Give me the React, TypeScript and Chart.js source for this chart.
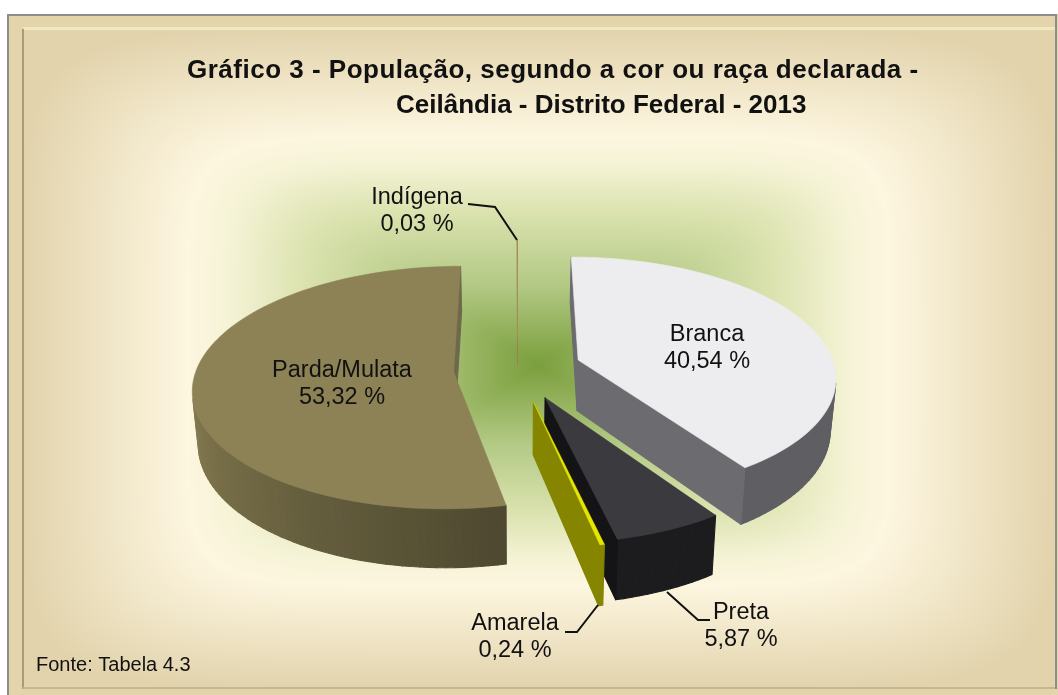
import React, { useEffect, useRef } from "react";
import { Chart, registerables } from "chart.js";

Chart.register(...registerables);

// ---- data ----
const categories = ["Branca", "Preta", "Amarela", "Parda/Mulata", "Indígena"];
const shares = [40.54, 5.87, 0.24, 53.32, 0.03];
const shareLabels = ["40,54 %", "5,87 %", "0,24 %", "53,32 %", "0,03 %"];
const titleLines = [
  "Gráfico 3 - População, segundo a cor ou raça declarada -",
  "Ceilândia - Distrito Federal - 2013",
];
const sourceNote = "Fonte: Tabela 4.3";

// ---- styling ----
const explode = [64, 67, 71, 64, 68];
const topColors = ["#ededef", "#3b3b3f", "#e6e600", "#8d8255", "#a88c5c"];
const wallDark = ["#5f5f63", "#1c1c1e", "#858500", "#4e4930", "#98805a"];
const wallLight = ["#5f5f63", "#1c1c1e", "#858500", "#857b50", "#98805a"];
const cutColors = ["#6b6b70", "#141416", "#858500", "#6f694c", "#98805a"];
const topStroke = [0.6, 0.6, 0.5, 0.6, 1.1];

const labelPos: [number, number][] = [
  [707, 335],
  [741, 613],
  [515, 624],
  [342, 371],
  [417, 198],
];
const leaders: [number, number][][] = [
  [],
  [[667, 592], [698, 620], [710, 620]],
  [[598, 605], [577, 632], [565, 632]],
  [],
  [[468, 204], [495, 207], [517, 240]],
];

const PROJ = { cx: 517.5, cy: 368.6, A: 257, B: 118.4, k: 0.13, D: 51, shrink: 0.018 };

function project(u: number, v: number, z: number): [number, number] {
  const w = 1 + PROJ.k * v;
  return [
    PROJ.cx + (PROJ.A * u * (1 - PROJ.shrink * z)) / w,
    PROJ.cy - (PROJ.B * v) / w + (PROJ.D * z) / w,
  ];
}

function hex(c: string) {
  return [1, 3, 5].map((i) => parseInt(c.slice(i, i + 2), 16));
}
function mix(a: string, b: string, t: number) {
  const x = hex(a);
  const y = hex(b);
  return `rgb(${x.map((p, i) => Math.round(p + (y[i] - p) * t)).join(",")})`;
}

const bgStops: [number, number[]][] = [
  [0, [226, 211, 172]],
  [0.32, [253, 246, 224]],
  [0.4, [245, 243, 214]],
  [0.54, [220, 227, 176]],
  [0.76, [178, 201, 132]],
  [1, [122, 158, 60]],
];

let bgCache: HTMLCanvasElement | null = null;
function background() {
  if (bgCache) return bgCache;
  const x0 = 23, y0 = 29, x1 = 1055, y1 = 688, mx = 537, my = 365;
  const c = document.createElement("canvas");
  c.width = x1 - x0;
  c.height = y1 - y0;
  const g = c.getContext("2d")!;
  const img = g.createImageData(c.width, c.height);
  for (let y = 0; y < c.height; y++) {
    for (let x = 0; x < c.width; x++) {
      const px = x + x0, py = y + y0;
      const dx = px < mx ? (mx - px) / (mx - x0) : (px - mx) / (x1 - mx);
      const dy = py < my ? (my - py) / (my - y0) : (py - my) / (y1 - my);
      const r = Math.min(1, Math.pow(Math.pow(dx, 7) + Math.pow(dy, 7), 1 / 7));
      const t = 1 - r;
      let i = 0;
      while (i < bgStops.length - 2 && t > bgStops[i + 1][0]) i++;
      const [a, ca] = bgStops[i];
      const [b, cb] = bgStops[i + 1];
      const f = Math.min(1, (t - a) / (b - a));
      const o = (y * c.width + x) * 4;
      for (let k = 0; k < 3; k++) img.data[o + k] = ca[k] + (cb[k] - ca[k]) * f;
      img.data[o + 3] = 255;
    }
  }
  g.putImageData(img, 0, 0);
  bgCache = c;
  return c;
}

function quad(ctx: CanvasRenderingContext2D, pts: [number, number][], fill: string) {
  ctx.beginPath();
  pts.forEach((p, i) => (i ? ctx.lineTo(p[0], p[1]) : ctx.moveTo(p[0], p[1])));
  ctx.closePath();
  ctx.fillStyle = fill;
  ctx.strokeStyle = fill;
  ctx.lineWidth = 1.1;
  ctx.lineJoin = "round";
  ctx.fill();
  ctx.stroke();
}

const framePlugin = {
  id: "frame",
  beforeDraw(chart: any) {
    const ctx: CanvasRenderingContext2D = chart.ctx;
    ctx.save();
    ctx.fillStyle = "#ffffff";
    ctx.fillRect(0, 0, 1058, 695);
    ctx.fillStyle = "#e3d4ac";
    ctx.fillRect(7, 14, 1051, 681);
    ctx.drawImage(background(), 23, 29);
    // frame lines
    ctx.fillStyle = "#8e8e88";
    ctx.fillRect(7, 14, 1049, 2);
    ctx.fillRect(7, 14, 2, 681);
    ctx.fillRect(1055, 14, 2, 675);
    ctx.fillStyle = "#f1e8c2";
    ctx.fillRect(23, 27, 1032, 3);
    ctx.fillStyle = "#a89c78";
    ctx.fillRect(22, 29, 2, 660);
    ctx.fillStyle = "#c4b794";
    ctx.fillRect(23, 687, 1032, 2);
    ctx.restore();
  },
};

const pie3dPlugin = {
  id: "pie3d",
  beforeDatasetsDraw(chart: any) {
    const ctx: CanvasRenderingContext2D = chart.ctx;
    const arcs: any[] = chart.getDatasetMeta(0).data;
    const order = arcs
      .map((el, i) => ({ el, i, mid: (el.startAngle + el.endAngle) / 2 + Math.PI / 2 }))
      .sort((a, b) => Math.cos(b.mid) - Math.cos(a.mid));

    ctx.save();
    for (const { el, i, mid } of order) {
      const R = el.outerRadius;
      const off = el.options.offset / R;
      const ou = off * Math.sin(mid);
      const ov = off * Math.cos(mid);
      const t1 = el.startAngle + Math.PI / 2;
      const t2 = el.endAngle + Math.PI / 2;
      const n = Math.max(1, Math.ceil((t2 - t1) / 0.03));
      const rim: [number, number][] = [];
      for (let s = 0; s <= n; s++) {
        const t = t1 + ((t2 - t1) * s) / n;
        rim.push([ou + Math.sin(t), ov + Math.cos(t)]);
      }
      const apex: [number, number] = [ou, ov];
      const ring = [apex, ...rim];

      const wall = (a: [number, number], b: [number, number], col: string) => {
        const p = project(a[0], a[1], 0);
        const q = project(b[0], b[1], 0);
        const q2 = project(b[0], b[1], 1);
        const p2 = project(a[0], a[1], 1);
        const cross = (q[0] - p[0]) * (p2[1] - p[1]) - (q[1] - p[1]) * (p2[0] - p[0]);
        if (cross < 0) quad(ctx, [p, q, q2, p2], col);
      };

      if (categories[i] === "Indígena") {
        // hair-thin slice: its side fades out below the top edge
        const a = project(apex[0], apex[1], 0);
        const b = project(apex[0], apex[1], 1);
        const g = ctx.createLinearGradient(0, a[1], 0, b[1]);
        g.addColorStop(0, wallDark[i]);
        g.addColorStop(0.52, wallDark[i]);
        g.addColorStop(0.58, "rgba(152,128,90,0)");
        ctx.strokeStyle = g;
        ctx.lineWidth = 1;
        ctx.beginPath();
        ctx.moveTo(a[0], a[1]);
        ctx.lineTo(b[0], b[1]);
        ctx.stroke();
      } else {
        for (let s = 0; s < n; s++) {
          const t = t1 + ((t2 - t1) * (s + 0.5)) / n;
          const f = Math.max(0, Math.min(1, (t - (170 * Math.PI) / 180) / ((90 * Math.PI) / 180)));
          wall(rim[s], rim[s + 1], mix(wallDark[i], wallLight[i], f));
        }
        wall(apex, rim[0], cutColors[i]);
        wall(rim[rim.length - 1], apex, cutColors[i]);
      }

      ctx.beginPath();
      ring.forEach((p, k) => {
        const [x, y] = project(p[0], p[1], 0);
        if (k) ctx.lineTo(x, y);
        else ctx.moveTo(x, y);
      });
      ctx.closePath();
      ctx.fillStyle = el.options.backgroundColor;
      ctx.strokeStyle = el.options.backgroundColor;
      ctx.lineWidth = topStroke[i];
      ctx.fill();
      ctx.stroke();
    }
    ctx.restore();
    return false;
  },
};

const textPlugin = {
  id: "texts",
  afterDraw(chart: any) {
    const ctx: CanvasRenderingContext2D = chart.ctx;
    const family = '"Liberation Sans", Arial, sans-serif';
    ctx.save();
    ctx.fillStyle = "#111111";
    ctx.textBaseline = "middle";

    ctx.textAlign = "left";
    ctx.font = `bold 26px ${family}`;
    (ctx as any).letterSpacing = "0.5px";
    ctx.fillText(titleLines[0], 187, 71);
    (ctx as any).letterSpacing = "0px";
    ctx.fillText(titleLines[1], 396, 106);

    ctx.font = `20px ${family}`;
    ctx.fillText(sourceNote, 36, 665);

    ctx.textAlign = "center";
    ctx.font = `23.5px ${family}`;
    categories.forEach((name, i) => {
      const [x, y] = labelPos[i];
      ctx.fillText(name, x, y);
      ctx.fillText(shareLabels[i], x, y + 27);
    });

    ctx.strokeStyle = "#111111";
    ctx.lineWidth = 2;
    leaders.forEach((line) => {
      if (!line.length) return;
      ctx.beginPath();
      line.forEach((p, k) => (k ? ctx.lineTo(p[0], p[1]) : ctx.moveTo(p[0], p[1])));
      ctx.stroke();
    });
    ctx.restore();
  },
};

export default function App() {
  const ref = useRef<HTMLCanvasElement>(null);
  useEffect(() => {
    const chart = new Chart(ref.current!, {
      type: "pie",
      data: {
        labels: categories,
        datasets: [
          {
            data: shares,
            backgroundColor: topColors,
            borderWidth: 0,
            offset: explode,
          },
        ],
      },
      options: {
        responsive: false,
        animation: false,
        events: [],
        radius: 257,
        rotation: 0,
        plugins: { legend: { display: false }, tooltip: { enabled: false }, title: { display: false } },
      } as any,
      plugins: [framePlugin, pie3dPlugin, textPlugin],
    });
    return () => chart.destroy();
  }, []);
  return (
    <canvas
      ref={ref}
      width={1058}
      height={695}
      style={{ position: "fixed", left: 0, top: 0, display: "block", width: 1058, height: 695 }}
    />
  );
}
